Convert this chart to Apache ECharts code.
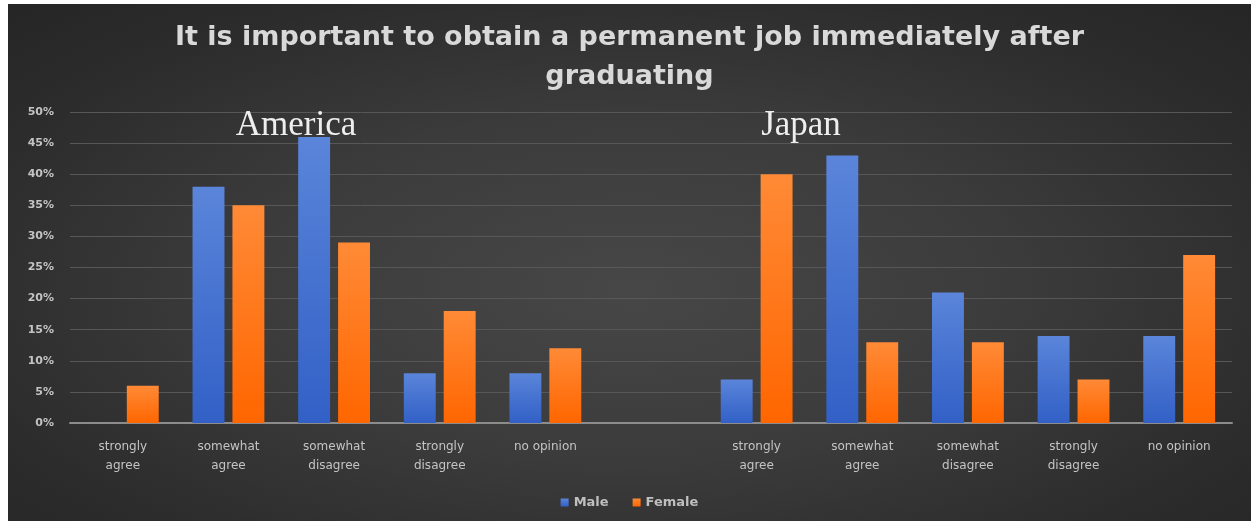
<!DOCTYPE html>
<html>
<head>
<meta charset="utf-8">
<script src="https://cdn.jsdelivr.net/npm/echarts@6/dist/echarts.min.js"></script>
<style>
  html, body { margin: 0; padding: 0; background: #ffffff; }
  #chart {
    position: absolute; left: 8px; top: 4px; width: 1243px; height: 517px;
    background: radial-gradient(ellipse 70% 75% at 50% 55%, #474747 0%, #3b3b3b 45%, #2c2c2c 80%, #262626 100%);
  }
</style>
</head>
<body>
<div id="chart"></div>
<script>
// Survey answers grouped by country; the empty slot separates the two groups.
const categories = [
  'strongly\nagree', 'somewhat\nagree', 'somewhat\ndisagree', 'strongly\ndisagree', 'no opinion',
  '',
  'strongly\nagree', 'somewhat\nagree', 'somewhat\ndisagree', 'strongly\ndisagree', 'no opinion'
];
const maleValues   = [0, 38, 46, 8, 8, null, 7, 43, 21, 14, 14];
const femaleValues = [6, 35, 29, 18, 12, null, 40, 13, 13, 7, 27];
const yTicks = { min: 0, max: 50, interval: 5 };
const titleText = 'It is important to obtain a permanent job immediately after\ngraduating';
const groupNames = ['America', 'Japan'];

const chart = echarts.init(document.getElementById('chart'), null, { renderer: 'canvas' });

function grad(top, bottom) {
  return new echarts.graphic.LinearGradient(0, 0, 0, 1, [
    { offset: 0, color: top },
    { offset: 1, color: bottom }
  ]);
}

const option = {
  backgroundColor: 'transparent',
  animation: false,
  title: [
    {
      text: titleText,
      left: 'center',
      top: 9,
      textStyle: {
        fontFamily: 'DejaVu Sans',
        fontWeight: 'bold',
        fontSize: 27,
        lineHeight: 39,
        color: '#d9d9d9'
      }
    },
    {
      text: groupNames[0],
      left: 283,
      top: 99,
      textAlign: 'center',
      textStyle: { fontFamily: 'Liberation Serif', fontWeight: 'normal', fontSize: 35, color: '#eeeeee' }
    },
    {
      text: groupNames[1],
      left: 788,
      top: 99,
      textAlign: 'center',
      textStyle: { fontFamily: 'Liberation Serif', fontWeight: 'normal', fontSize: 35, color: '#eeeeee' }
    }
  ],
  legend: {
    data: ['Male', 'Female'],
    bottom: 7,
    left: 'center',
    itemWidth: 8,
    itemHeight: 8,
    itemGap: 24,
    icon: 'rect',
    textStyle: { color: '#bfbfbf', fontFamily: 'DejaVu Sans', fontSize: 13, fontWeight: 'bold' }
  },
  grid: { left: 62, right: 19, top: 108, bottom: 98, containLabel: false },
  xAxis: {
    type: 'category',
    data: categories,
    axisLine: { lineStyle: { color: '#8c8c8c', width: 2 } },
    axisTick: { show: false },
    axisLabel: {
      interval: 0,
      margin: 14,
      color: '#c4c4c4',
      fontFamily: 'DejaVu Sans',
      fontSize: 12,
      lineHeight: 19
    }
  },
  yAxis: {
    type: 'value',
    min: yTicks.min,
    max: yTicks.max,
    interval: yTicks.interval,
    axisLine: { show: false },
    axisTick: { show: false },
    splitLine: { lineStyle: { color: '#575757', width: 1 } },
    axisLabel: {
      formatter: '{value}%',
      margin: 16,
      color: '#c4c4c4',
      fontFamily: 'DejaVu Sans',
      fontSize: 11,
      fontWeight: 'bold'
    }
  },
  series: [
    {
      name: 'Male',
      type: 'bar',
      data: maleValues,
      barGap: '25%',
      barCategoryGap: '32%',
      itemStyle: { color: grad('#5a85da', '#3260c6') }
    },
    {
      name: 'Female',
      type: 'bar',
      data: femaleValues,
      barGap: '25%',
      barCategoryGap: '32%',
      itemStyle: { color: grad('#ff8a36', '#ff6600') }
    }
  ]
};

chart.setOption(option);
</script>
</body>
</html>
